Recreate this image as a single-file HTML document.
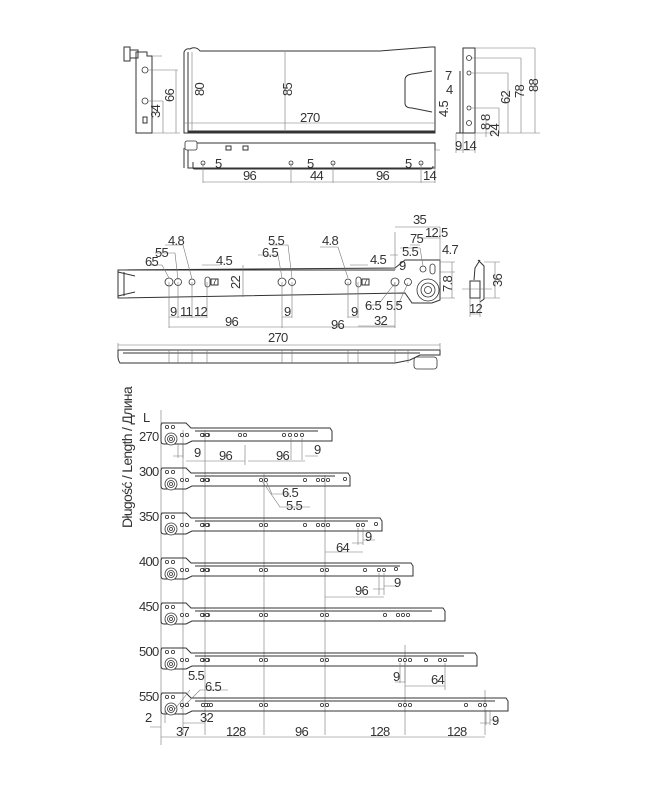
<!DOCTYPE html>
<html><head><meta charset="utf-8"><style>
html,body{margin:0;padding:0;background:#fff}
svg{display:block}
text{font-family:"Liberation Sans Narrow","Liberation Sans",sans-serif;font-size:13px;letter-spacing:-0.7px;fill:#333}
.l{stroke:#333;stroke-width:1;fill:none}
.t{stroke:#333;stroke-width:2;fill:none}
.d{stroke:#777;stroke-width:0.6;fill:none}
.h{stroke:#333;stroke-width:0.8;fill:#fff}
</style></head><body>
<svg width="671" height="801" viewBox="0 0 671 801" xmlns="http://www.w3.org/2000/svg">
<defs>
<g id="rl">
<circle cx="171" cy="17" r="6" class="h"/><circle cx="171" cy="17" r="3.5" class="h"/><circle cx="171" cy="17" r="1.5" class="h"/>
<circle cx="167" cy="5" r="1.6" class="h"/><circle cx="173" cy="5" r="1.6" class="h"/>
<circle cx="182" cy="13" r="1.6" class="h"/><circle cx="187" cy="13" r="1.6" class="h"/>
<circle cx="203" cy="13" r="1.6" class="h"/><circle cx="208" cy="13" r="1.6" class="h"/>
</g>
</defs>

<!-- ============ TOP SECTION ============ -->
<path class="l" d="M136,52 L147,52 L147,56 L152,56 L152,133 L136,133 Z"/>
<rect x="124" y="47" width="6" height="14" class="l"/><rect x="130" y="50" width="8" height="8" class="l"/>
<circle cx="145" cy="70" r="3" class="h"/><circle cx="145" cy="101" r="3" class="h"/><rect x="143" y="117" width="4" height="6" class="l"/>
<path class="d" d="M152,56 H162 M148,70 H178 M148,101 H163 M163,101 V133 M176,70 V133 M152,133 H180"/>
<text transform="translate(174,102) rotate(-90)">66</text>
<text transform="translate(160,118) rotate(-90)">34</text>
<path class="l" d="M184,52 Q186,48 190,49 L192,48 Q197,47 200,51 L380,51 L431,47 L435,47 L435,133 L184,133 Z"/>
<line x1="188" y1="52" x2="188" y2="133" class="l"/>
<path class="l" d="M432,71 L412,74 Q405,75 405,80 L405,103 Q405,108 412,108 L432,112"/>
<line x1="188" y1="132" x2="435" y2="132" class="t" style="stroke-width:3"/>
<path class="d" d="M192,52 V130 M285,52 V130 M184,123 H435"/>
<text transform="translate(204,96) rotate(-90)">80</text>
<text transform="translate(292,96) rotate(-90)">85</text>
<text x="300" y="122">270</text>
<rect x="188" y="143" width="247" height="25" class="l"/>
<rect x="185" y="141" width="12" height="9" rx="2" class="h"/>
<rect x="226" y="146" width="5" height="4" class="l"/><rect x="243" y="146" width="5" height="4" class="l"/>
<path class="l" d="M193,168 V162 M193,168 Q193,169 195,169 H430 Q433,169 433,166"/>
<line x1="184" y1="148" x2="184" y2="168" class="l"/>
<g class="h"><circle cx="203" cy="163" r="2"/><circle cx="291" cy="163" r="2"/><circle cx="333" cy="163" r="2"/><circle cx="421" cy="163" r="2"/></g>
<path class="d" d="M203,163 V183 M291,163 V183 M333,163 V183 M421,163 V183 M435,150 V183 M203,182 H435 M435,150 H440"/>
<text x="215" y="168">5</text><text x="307" y="168">5</text><text x="405" y="168">5</text>
<text x="243" y="180">96</text><text x="310" y="180">44</text><text x="376" y="180">96</text><text x="423" y="180">14</text>
<rect x="463" y="48" width="12" height="85" class="l"/>
<circle cx="469" cy="58" r="2.5" class="h"/><circle cx="469" cy="73" r="2" class="h"/><circle cx="469" cy="108" r="2" class="h"/><circle cx="469" cy="123" r="2.5" class="h"/>
<path class="l" d="M460,71 V133 M456,133 H463"/>
<path class="d" d="M475,48 H535 M472,58 H521 M472,73 H508 M472,108 H499 M535,48 V133 M521,58 V133 M508,73 V133 M499,108 V133 M475,133 H540 M456,133 V153 M463,133 V153 M475,133 V153 M456,150 H475 M486,120 V137"/>
<text x="445" y="80">7</text><text x="446" y="94">4</text>
<text transform="translate(448,117) rotate(-90)">4.5</text>
<text transform="translate(490,121) rotate(-90)">8</text>
<text transform="translate(499,137) rotate(-90)">24</text>
<text transform="translate(510,104) rotate(-90)">62</text>
<text transform="translate(524,98) rotate(-90)">78</text>
<text transform="translate(538,92) rotate(-90)">88</text>
<text transform="translate(490,130) rotate(-90)">8</text>
<text x="455" y="150">9</text><text x="463" y="150">14</text>

<!-- ============ MIDDLE SECTION ============ -->
<path class="l" d="M118,270 L395,268 L405,260 L440,260 L440,300 L432,303 L412,303 L405,293 L118,298 Z"/>
<path class="l" d="M118,272 L135,276 M118,296 L135,292 M124,272 V296"/>
<line x1="124" y1="270" x2="395" y2="270" class="l"/>
<g class="h"><circle cx="169" cy="282" r="4"/><circle cx="178" cy="282" r="3.5"/><circle cx="192" cy="282" r="3"/><circle cx="282" cy="282" r="4"/><circle cx="292" cy="282" r="3.5"/><circle cx="348" cy="282" r="3"/><circle cx="395" cy="282" r="4"/><circle cx="408" cy="282" r="3.5"/><circle cx="423" cy="269" r="3"/></g>
<rect x="205" y="277" width="5" height="10" rx="2.5" class="h"/><rect x="356" y="277" width="5" height="10" rx="2.5" class="h"/><rect x="430" y="264" width="5" height="10" rx="2.5" class="h"/>
<circle cx="428" cy="290" r="11" class="h"/><circle cx="428" cy="290" r="7" class="h"/><circle cx="428" cy="290" r="3.5" class="h"/>
<rect x="211" y="279" width="7" height="6" class="l"/><rect x="362" y="279" width="7" height="6" class="l"/>
<text x="212" y="285" style="font-size:9px">7</text><text x="363" y="285" style="font-size:9px">7</text>
<path class="d" d="M169,282 V328 M178,282 V318 M192,282 V318 M207,282 V318 M282,282 V328 M292,282 V318 M348,282 V318 M358,282 V318 M395,282 V328 M169,317 H207 M282,317 H292 M348,317 H358 M358,326 H395 M169,327 H395 M243,265 V297 M202,265 H220 M350,265 H368 M395,232 V270 M395,227 H440 M420,238 H440 M410,245 H420 M440,227 V282 M440,262 H455 M440,272 H455 M452,262 V298 M440,298 H455"/>
<path class="d" d="M155,253 L175,253 L178,280 M150,265 L162,265 L169,278 M165,245 L183,245 L192,279 M258,255 L278,255 L282,278 M270,245 L288,245 L292,278 M320,247 L338,247 L348,278 M390,255 L398,255 M400,248 L420,248 L423,266 M395,283 L378,305 L365,305 M408,283 L398,305"/>
<text x="168" y="245">4.8</text><text x="155" y="257">55</text><text x="145" y="266">65</text>
<text x="216" y="265">4.5</text><text transform="translate(240,289) rotate(-90)">22</text>
<text x="268" y="245">5.5</text><text x="262" y="257">6.5</text><text x="322" y="245">4.8</text>
<text x="370" y="264">4.5</text>
<text x="413" y="224">35</text><text x="425" y="237">12.5</text><text x="410" y="243">75</text><text x="402" y="256">5.5</text><text x="442" y="254">4.7</text>
<text x="399" y="270">9</text>
<text transform="translate(452,292) rotate(-90)">7.8</text>
<text x="365" y="310">6.5</text><text x="386" y="310">5.5</text>
<text x="170" y="316">9</text><text x="180" y="316">11</text><text x="194" y="316">12</text>
<text x="284" y="316">9</text><text x="351" y="316">9</text><text x="374" y="325">32</text>
<text x="225" y="326">96</text><text x="331" y="329">96</text>
<path class="l" d="M478,260 L484,266 L484,299 L480,302 M480,260 L475,268 L474,280 M470,281 H480 V298 H470 Z"/>
<path class="d" d="M484,262 H500 M484,298 H500 M495,262 V298 M470,298 V317 M480,298 V317 M470,314 H480 M462,289 H492"/>
<text transform="translate(502,287) rotate(-90)">36</text><text x="469" y="313">12</text>
<path class="l" d="M118,350 L440,350 L440,355 L420,355 L410,360 L395,363 L120,363 Q118,360 118,357 Z"/>
<path class="l" d="M123,353 H420"/>
<rect x="414" y="357" width="23" height="12" rx="3" class="h"/>
<path class="d" d="M118,343 V350 M440,343 V350 M118,345 H440 M169,350 V363 M178,350 V363 M192,350 V363 M207,350 V363 M282,350 V363 M292,350 V363 M348,350 V363 M358,350 V363 M395,350 V363 M408,350 V363"/>
<text x="268" y="342">270</text>

<!-- ============ BOTTOM SECTION ============ -->
<text transform="translate(132,528) rotate(-90)" style="font-size:14px">Długość / Length / Длина</text>
<text x="143" y="422">L</text>
<g class="d">
<path d="M161,410 V745 M183,430 V735 M205,430 V735 M264,474 V735 M325,475 V735 M405,645 V735 M485,690 V735"/>
</g>
<g>
<path class="l" d="M162,423 L186,423 L191,428 L330,428 L332,431 L332,441 L192,441 L186,444 L164,444 Q161,444 161,441 V425 Z M195,431 H318"/>
<path class="l" d="M162,468 L186,468 L191,473 L348,473 L350,476 L350,486 L192,486 L186,489 L164,489 Q161,489 161,486 V470 Z M195,476 H335"/>
<path class="l" d="M162,513 L186,513 L191,518 L380,518 L382,521 L382,531 L192,531 L186,534 L164,534 Q161,534 161,531 V515 Z M195,521 H368"/>
<path class="l" d="M162,558 L186,558 L191,563 L411,563 L413,566 L413,576 L192,576 L186,579 L164,579 Q161,579 161,576 V560 Z M195,566 H400"/>
<path class="l" d="M162,603 L186,603 L191,608 L443,608 L445,611 L445,621 L192,621 L186,624 L164,624 Q161,624 161,621 V605 Z M195,611 H432"/>
<path class="l" d="M162,648 L186,648 L191,653 L475,653 L477,656 L477,666 L192,666 L186,669 L164,669 Q161,669 161,666 V650 Z M195,656 H464"/>
<path class="l" d="M162,693 L186,693 L191,698 L506,698 L508,701 L508,711 L192,711 L186,714 L164,714 Q161,714 161,711 V695 Z M195,701 H495"/>
</g>
<use href="#rl" y="422"/><use href="#rl" y="467"/><use href="#rl" y="512"/><use href="#rl" y="557"/><use href="#rl" y="602"/><use href="#rl" y="647"/><use href="#rl" y="692"/>
<g class="h">
<circle cx="202" cy="435" r="1.6"/><circle cx="207" cy="435" r="1.6"/><circle cx="240" cy="435" r="1.6"/><circle cx="245" cy="435" r="1.6"/><circle cx="284" cy="435" r="1.6"/><circle cx="290" cy="435" r="1.6"/><circle cx="296" cy="435" r="1.6"/><circle cx="302" cy="435" r="1.6"/>
<circle cx="202" cy="480" r="1.6"/><circle cx="207" cy="480" r="1.6"/><circle cx="261" cy="480" r="1.6"/><circle cx="266" cy="480" r="1.6"/><circle cx="305" cy="480" r="1.6"/><circle cx="318" cy="480" r="1.6"/><circle cx="323" cy="480" r="1.6"/><circle cx="328" cy="480" r="1.6"/><circle cx="345" cy="479" r="1.6"/>
<circle cx="202" cy="525" r="1.6"/><circle cx="207" cy="525" r="1.6"/><circle cx="261" cy="525" r="1.6"/><circle cx="266" cy="525" r="1.6"/><circle cx="305" cy="525" r="1.6"/><circle cx="318" cy="525" r="1.6"/><circle cx="323" cy="525" r="1.6"/><circle cx="328" cy="525" r="1.6"/><circle cx="358" cy="525" r="1.6"/><circle cx="363" cy="525" r="1.6"/><circle cx="376" cy="524" r="1.6"/>
<circle cx="202" cy="570" r="1.6"/><circle cx="207" cy="570" r="1.6"/><circle cx="261" cy="570" r="1.6"/><circle cx="266" cy="570" r="1.6"/><circle cx="322" cy="570" r="1.6"/><circle cx="327" cy="570" r="1.6"/><circle cx="365" cy="570" r="1.6"/><circle cx="379" cy="570" r="1.6"/><circle cx="384" cy="570" r="1.6"/><circle cx="396" cy="569" r="1.6"/>
<circle cx="202" cy="615" r="1.6"/><circle cx="207" cy="615" r="1.6"/><circle cx="261" cy="615" r="1.6"/><circle cx="266" cy="615" r="1.6"/><circle cx="322" cy="615" r="1.6"/><circle cx="327" cy="615" r="1.6"/><circle cx="385" cy="615" r="1.6"/><circle cx="398" cy="615" r="1.6"/><circle cx="403" cy="615" r="1.6"/><circle cx="408" cy="615" r="1.6"/>
<circle cx="202" cy="660" r="1.6"/><circle cx="207" cy="660" r="1.6"/><circle cx="261" cy="660" r="1.6"/><circle cx="266" cy="660" r="1.6"/><circle cx="322" cy="660" r="1.6"/><circle cx="327" cy="660" r="1.6"/><circle cx="400" cy="660" r="1.6"/><circle cx="405" cy="660" r="1.6"/><circle cx="410" cy="660" r="1.6"/><circle cx="426" cy="660" r="1.6"/><circle cx="440" cy="660" r="1.6"/><circle cx="445" cy="660" r="1.6"/>
<circle cx="182" cy="705" r="1.6"/><circle cx="187" cy="705" r="1.6"/><circle cx="206" cy="705" r="1.6"/><circle cx="211" cy="705" r="1.6"/><circle cx="261" cy="705" r="1.6"/><circle cx="266" cy="705" r="1.6"/><circle cx="322" cy="705" r="1.6"/><circle cx="327" cy="705" r="1.6"/><circle cx="400" cy="705" r="1.6"/><circle cx="405" cy="705" r="1.6"/><circle cx="410" cy="705" r="1.6"/><circle cx="466" cy="705" r="1.6"/><circle cx="480" cy="705" r="1.6"/><circle cx="485" cy="705" r="1.6"/>
</g>
<text x="139" y="441">270</text><text x="139" y="476">300</text><text x="139" y="521">350</text><text x="139" y="566">400</text><text x="139" y="611">450</text><text x="139" y="656">500</text><text x="139" y="701">550</text>
<path class="d" d="M178,444 V458 M183,445 V458 M173,456 H183 M291,438 V460 M302,438 V460 M186,461 H245 M248,461 H305 M305,456 H318 M245,445 V465"/>
<text x="194" y="457">9</text><text x="219" y="460">96</text><text x="276" y="460">96</text><text x="314" y="454">9</text>
<path class="d" d="M262,481 L280,507 H310 M266,481 L272,494 H290"/>
<text x="282" y="497">6.5</text><text x="286" y="510">5.5</text>
<path class="d" d="M358,528 V545 M363,528 V545 M352,543 H363 M363,540 H375 M325,552 H363"/>
<text x="365" y="541">9</text><text x="336" y="552">64</text>
<path class="d" d="M379,573 V595 M384,573 V595 M373,589 H384 M384,586 H395 M325,597 H384"/>
<text x="394" y="587">9</text><text x="355" y="595">96</text>
<path class="d" d="M400,663 V683 M405,663 V683 M395,682 H405 M405,686 H445 M445,663 V690"/>
<text x="393" y="681">9</text><text x="431" y="684">64</text>
<path class="d" d="M175,709 L190,690 M181,709 L200,690 H228 M165,711 V723 M183,723 H205 M486,710 V725 M490,710 V725 M480,723 H490 M490,720 H497"/>
<text x="188" y="680">5.5</text><text x="205" y="691">6.5</text>
<text x="200" y="722">32</text><text x="145" y="722">2</text>
<path class="d" d="M161,737 H485 M150,727 H161"/>
<text x="176" y="736">37</text><text x="226" y="736">128</text><text x="295" y="736">96</text><text x="370" y="736">128</text><text x="447" y="736">128</text><text x="492" y="725">9</text>
</svg>
</body></html>
